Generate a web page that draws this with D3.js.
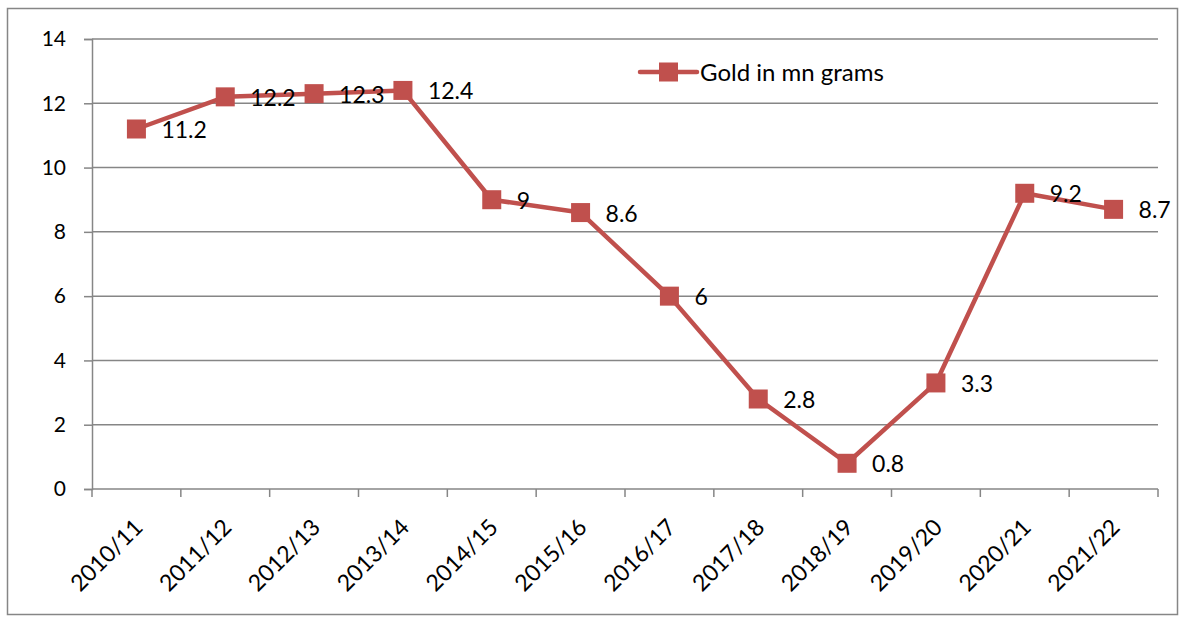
<!DOCTYPE html>
<html>
<head>
<meta charset="utf-8">
<script src="https://cdn.jsdelivr.net/npm/d3@7"></script>
<style>
  html, body { margin: 0; padding: 0; background: #fff; }
  svg { display: block; }
  text { font-family: Lato, "Open Sans", sans-serif; fill: #000; }
</style>
</head>
<body>
<svg id="chart" width="1181" height="617"></svg>
<script>
// Gold production by fiscal year (million grams)
const years = ["2010/11","2011/12","2012/13","2013/14","2014/15","2015/16",
               "2016/17","2017/18","2018/19","2019/20","2020/21","2021/22"];
const gold = [11.2, 12.2, 12.3, 12.4, 9, 8.6, 6, 2.8, 0.8, 3.3, 9.2, 8.7];
const yTicks = [0, 2, 4, 6, 8, 10, 12, 14];
const seriesName = "Gold in mn grams";

const red = "#C0504D";
const grid = "#868686";

const svg = d3.select("#chart");

// outer frame
svg.append("rect")
  .attr("x", 7.5).attr("y", 8.5).attr("width", 1170).attr("height", 606)
  .attr("fill", "none").attr("stroke", grid).attr("stroke-width", 1.5);

const plot = { left: 92, right: 1158, top: 39, bottom: 489 };

const x = d3.scaleBand().domain(years).range([plot.left, plot.right]).paddingInner(0).paddingOuter(0);
const y = d3.scaleLinear().domain([0, 14]).range([plot.bottom, plot.top]);
const cx = i => x(years[i]) + x.bandwidth() / 2;

// horizontal gridlines
svg.append("g").selectAll("line").data(yTicks.filter(d => d > 0)).join("line")
  .attr("x1", plot.left).attr("x2", plot.right)
  .attr("y1", d => y(d)).attr("y2", d => y(d))
  .attr("stroke", grid).attr("stroke-width", 1.5);

// y axis
const yAxis = svg.append("g").attr("transform", `translate(${plot.left},0)`)
  .call(d3.axisLeft(y).tickValues(yTicks).tickSize(8).tickPadding(18).tickFormat(d3.format("d")));
yAxis.select(".domain").attr("stroke", grid).attr("stroke-width", 1.5);
yAxis.selectAll(".tick line").attr("stroke", grid).attr("stroke-width", 1.5);
yAxis.selectAll(".tick text").style("font-size", "21px").style("font-family", "Lato, sans-serif").attr("fill", "#000");

// x axis with ticks at category boundaries
const xAxisG = svg.append("g").attr("transform", `translate(0,${plot.bottom})`);
xAxisG.append("line").attr("x1", plot.left).attr("x2", plot.right).attr("y1", 0).attr("y2", 0)
  .attr("stroke", grid).attr("stroke-width", 1.5);
const bounds = years.map(d => x(d)).concat([x(years[years.length - 1]) + x.bandwidth()]);
xAxisG.selectAll("line.tk").data(bounds).join("line").attr("class", "tk")
  .attr("x1", d => d).attr("x2", d => d).attr("y1", 0).attr("y2", 8)
  .attr("stroke", grid).attr("stroke-width", 1.5);
xAxisG.selectAll("text").data(years).join("text")
  .attr("transform", d => `translate(${x(d) + x.bandwidth() / 2 + 2},${34}) rotate(-45)`)
  .attr("text-anchor", "end")
  .attr("dy", "0.35em")
  .style("font-size", "23px")
  .text(d => d);

// series line
const line = d3.line().x((d, i) => cx(i)).y(d => y(d));
svg.append("path").datum(gold)
  .attr("d", line).attr("fill", "none").attr("stroke", red)
  .attr("stroke-width", 4.5).attr("stroke-linejoin", "round");

// markers
const ms = 19;
svg.append("g").selectAll("rect").data(gold).join("rect")
  .attr("x", (d, i) => cx(i) - ms / 2)
  .attr("y", d => y(d) - ms / 2)
  .attr("width", ms).attr("height", ms)
  .attr("fill", red);

// value labels
svg.append("g").selectAll("text").data(gold).join("text")
  .attr("x", (d, i) => cx(i) + 25)
  .attr("y", d => y(d) + 1)
  .attr("dy", "0.35em")
  .style("font-size", "23px")
  .text(d => d);

// legend
const lg = svg.append("g").attr("transform", "translate(640,72)");
lg.append("line").attr("x1", 0).attr("x2", 57).attr("y1", 0).attr("y2", 0)
  .attr("stroke", red).attr("stroke-width", 4.5).attr("stroke-linecap", "round");
lg.append("rect").attr("x", 28.5 - ms / 2).attr("y", -ms / 2).attr("width", ms).attr("height", ms).attr("fill", red);
lg.append("text").attr("x", 60).attr("y", 1).attr("dy", "0.35em").style("font-size", "24px").text(seriesName);
</script>
</body>
</html>
